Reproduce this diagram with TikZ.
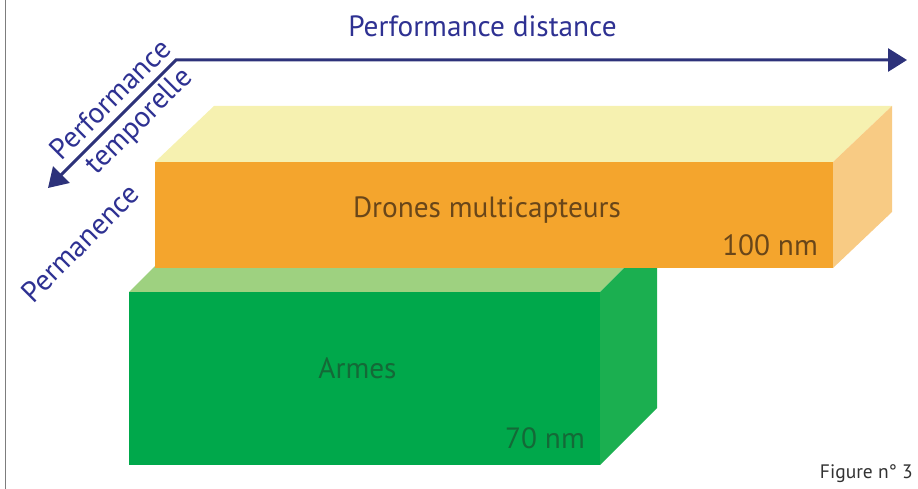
\documentclass[tikz,border=0pt]{standalone}
\usepackage{fontspec}
\setmainfont{PT Sans}
\usetikzlibrary{arrows.meta}
\definecolor{axisblue}{RGB}{45,50,122}
\definecolor{txtblue}{RGB}{46,49,146}
\definecolor{orfront}{RGB}{244,165,45}
\definecolor{ortop}{RGB}{246,241,176}
\definecolor{orside}{RGB}{248,203,132}
\definecolor{grfront}{RGB}{0,168,75}
\definecolor{grtop}{RGB}{158,209,128}
\definecolor{grside}{RGB}{27,175,80}
\definecolor{brtxt}{RGB}{105,70,25}
\definecolor{grtxt}{RGB}{20,105,55}
\definecolor{figtxt}{RGB}{50,50,50}
\definecolor{framegray}{RGB}{125,125,125}
\tikzset{
  bigtxt/.style={font=\fontsize{29.3}{33}\selectfont, inner sep=0pt},
  axislabel/.style={bigtxt, text=txtblue},
  axisline/.style={draw=axisblue, line width=3pt, line join=miter,
    {Triangle[length=19pt,width=23pt]}-{Triangle[length=19pt,width=23pt]}}
}
\begin{document}
\begin{tikzpicture}[x=1pt,y=-1pt]
\useasboundingbox (0,0) rectangle (918,489);
\draw[framegray, line width=1pt] (5,0) -- (5,489);

% green box (behind)
\fill[grtop]   (129,292) -- (600,292) -- (657,235) -- (186,235) -- cycle;
\fill[grside]  (600,292) -- (657,235) -- (657,408) -- (600,465) -- cycle;
\fill[grfront] (129,292) rectangle (600,465);

% orange box
\fill[ortop]   (155,162) -- (833,162) -- (892,106) -- (214,106) -- cycle;
\fill[orside]  (833,162) -- (892,106) -- (892,212) -- (833,268) -- cycle;
\fill[orfront] (155,162) rectangle (833,268);

% axes
\coordinate (origin) at (176,60);
\coordinate (xend) at (907,60);
\coordinate (zend) at (48,188);
\draw[axisline] (zend) -- (origin) -- (xend);

\node[axislabel, anchor=base] (xlab) at (482.5,37) {Performance distance};
\node[axislabel, rotate=45] (zlab1) at (110,99) {Performance};
\node[axislabel, rotate=45] (zlab2) at (140,122) {temporelle};
\node[axislabel, rotate=45] (zlab3) at (80,243) {Permanence};

\node[bigtxt, text=brtxt, anchor=base] (drones) at (487,218) {Drones multicapteurs};
\node[bigtxt, text=brtxt, anchor=base east] (dist100) at (818,255) {100 nm};
\node[bigtxt, text=grtxt, anchor=base] (armes) at (357.5,378) {Armes};
\node[bigtxt, text=grtxt, anchor=base east] (dist70) at (585,448) {70 nm};

\node[font=\fontsize{19.5}{21}\selectfont, text=figtxt, inner sep=0pt, anchor=base east] (fig) at (913,478) {Figure n° 3};
\end{tikzpicture}
\end{document}
